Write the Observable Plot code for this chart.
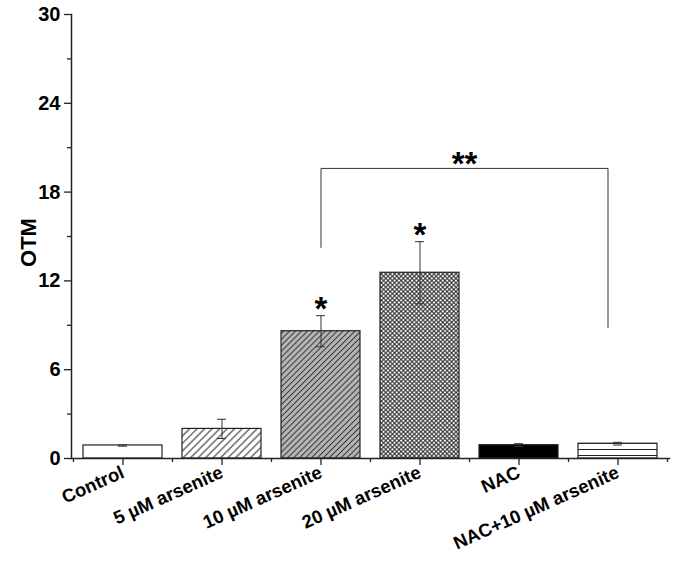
<!DOCTYPE html>
<html><head><meta charset="utf-8">
<script src="https://cdn.jsdelivr.net/npm/d3@7"></script>
<script src="https://cdn.jsdelivr.net/npm/@observablehq/plot@0.6"></script>
<style>
body{margin:0;background:#fff;font-family:"Liberation Sans",Arial,sans-serif}
#chart svg{display:block;font-family:"Liberation Sans",Arial,sans-serif}
</style>
</head><body><div id="chart"></div>
<script>
// ---- data ----
const categories = ["Control", "5 µM arsenite", "10 µM arsenite", "20 µM arsenite", "NAC", "NAC+10 µM arsenite"];
const means = [0.88, 2.0, 8.6, 12.55, 0.9, 1.0];
const errors = [0.05, 0.65, 1.05, 2.1, 0.1, 0.09];
const yTicks = [0, 6, 12, 18, 24, 30];
const yMinorTicks = [3, 9, 15, 21, 27];
const yTitle = "OTM";
const sigCats = ["10 µM arsenite", "20 µM arsenite"];
const sigY = [10.5, 15.5];
const sigLabels = ["*", "*"];
const bracketFrom = "10 µM arsenite";
const bracketTo = "NAC+10 µM arsenite";
const bracketTop = 19.6;
const bracketLeftBottom = 14.2;
const bracketRightBottom = 8.8;
const bracketLabel = "**";
const bracketLabelY = 20.3;

// ---- styles ----
const fills = ["white", "url(#hatchLight)", "url(#hatchGray)", "url(#crossHatch)", "black", "url(#hStripes)"];
const ink = "#222";

const rows = categories.map((c, i) => ({cat: c, mean: means[i], err: errors[i]}));
const sigRows = sigCats.map((c, i) => ({cat: c, y: sigY[i], label: sigLabels[i]}));

function bandEdges(x) {
  const bw = x.bandwidth ? x.bandwidth() : 0;
  const step = x(categories[1]) - x(categories[0]);
  const gap = (step - bw) / 2;
  const edges = categories.map(c => x(c) - gap);
  edges.push(x(categories[categories.length - 1]) + bw + gap);
  return edges;
}

function minorXTicks(index, scales) {
  const {x, y} = scales;
  const g = d3.create("svg:g").attr("stroke", ink).attr("stroke-width", 1.3);
  const y0 = y(0);
  for (const e of bandEdges(x)) {
    g.append("line").attr("x1", e + 0.5).attr("x2", e + 0.5).attr("y1", y0).attr("y2", y0 + 4);
  }
  return g.node();
}

function bracketMark(index, scales) {
  const {x, y} = scales;
  const bw = x.bandwidth ? x.bandwidth() : 0;
  const xa = x(bracketFrom) + bw / 2 + 0.5;
  const xb = x(bracketTo) + bw / 2 - 10 + 0.5;
  const g = d3.create("svg:g");
  g.append("path")
    .attr("fill", "none").attr("stroke", "#333").attr("stroke-width", 1)
    .attr("d", `M${xa},${y(bracketLeftBottom)}V${y(bracketTop) + 0.5}H${xb}V${y(bracketRightBottom)}`);
  g.append("text")
    .attr("x", (xa + xb) / 2).attr("y", y(bracketLabelY) + 17)
    .attr("text-anchor", "middle")
    .attr("font-size", 33).attr("font-weight", "bold")
    .attr("fill", "black")
    .text(bracketLabel);
  return g.node();
}

const marks = [];
rows.forEach((r, i) => {
  marks.push(Plot.barY([r], {x: "cat", y: "mean", fill: fills[i], stroke: ink, strokeWidth: 1.2}));
});
marks.push(
  Plot.ruleX(rows, {x: "cat", y1: d => d.mean - d.err, y2: d => d.mean + d.err, stroke: "#333", strokeWidth: 1}),
  Plot.tickY(rows, {x: "cat", y: d => d.mean + d.err, stroke: "#333", strokeWidth: 1, insetLeft: 35, insetRight: 35}),
  Plot.tickY(rows, {x: "cat", y: d => d.mean - d.err, stroke: "#333", strokeWidth: 1, insetLeft: 35, insetRight: 35}),
  Plot.text(sigRows, {x: "cat", y: "y", text: "label", fontSize: 33, fontWeight: "bold", dy: 6, fill: "black"}),
  bracketMark,
  Plot.frame({anchor: "left", stroke: ink, strokeWidth: 1.5}),
  Plot.frame({anchor: "bottom", stroke: ink, strokeWidth: 1.5}),
  minorXTicks,
  Plot.axisY({ticks: yTicks, tickSize: 7, tickPadding: 4, fontSize: 20, fontWeight: "bold", label: null, stroke: ink, strokeWidth: 1.3, fill: "black"}),
  Plot.axisY({ticks: yMinorTicks, tickSize: 4, tickFormat: () => "", label: null, stroke: ink, strokeWidth: 1.3}),
  Plot.text([yTitle], {frameAnchor: "left", textAnchor: "middle", rotate: -90, dx: -43, dy: 6, fontSize: 22, fontWeight: "bold", fill: "black"}),
  Plot.axisX({tickSize: 7, tickRotate: -24, tickPadding: 6, fontSize: 18.5, fontWeight: "bold", label: null, stroke: ink, strokeWidth: 1.3, fill: "black"})
);

const svg = Plot.plot({
  width: 673,
  height: 573,
  marginLeft: 71,
  marginRight: 4,
  marginTop: 14,
  marginBottom: 115,
  style: {background: "white", color: "black", fontFamily: "'Liberation Sans', Arial, sans-serif"},
  x: {type: "band", domain: categories, paddingInner: 0.2, paddingOuter: 0.1, label: null},
  y: {domain: [0, 30], label: null},
  marks
});

const defs = document.createElementNS("http://www.w3.org/2000/svg", "defs");
defs.innerHTML = `
<pattern id="hatchLight" patternUnits="userSpaceOnUse" width="5.3" height="5.3" patternTransform="rotate(45)">
  <rect width="5.3" height="5.3" fill="white"/>
  <line x1="2.65" y1="0" x2="2.65" y2="5.3" stroke="#222" stroke-width="1"/>
</pattern>
<pattern id="hatchGray" patternUnits="userSpaceOnUse" width="4.2" height="4.2" patternTransform="rotate(45)">
  <rect width="4.2" height="4.2" fill="#b5b5b5"/>
  <line x1="2.1" y1="0" x2="2.1" y2="4.2" stroke="#333" stroke-width="1"/>
</pattern>
<pattern id="crossHatch" patternUnits="userSpaceOnUse" width="3.1" height="3.1" patternTransform="rotate(45)">
  <rect width="3.1" height="3.1" fill="white"/>
  <line x1="1.55" y1="0" x2="1.55" y2="3.1" stroke="#222" stroke-width="1"/>
  <line x1="0" y1="1.55" x2="3.1" y2="1.55" stroke="#222" stroke-width="1"/>
</pattern>
<pattern id="hStripes" patternUnits="userSpaceOnUse" width="10" height="6" y="5">
  <rect width="10" height="6" fill="white"/>
  <line x1="0" y1="0.5" x2="10" y2="0.5" stroke="#222" stroke-width="1"/>
</pattern>`;
svg.insertBefore(defs, svg.firstChild);
document.getElementById("chart").appendChild(svg);
</script>
</body></html>
